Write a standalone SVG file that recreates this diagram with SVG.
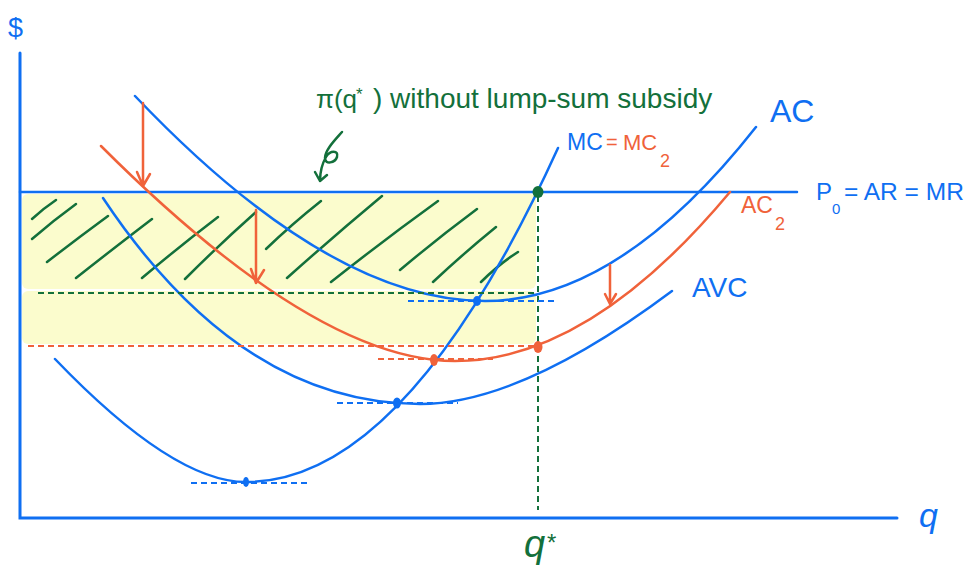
<svg xmlns="http://www.w3.org/2000/svg" width="968" height="569" viewBox="0 0 968 569">
<style>
.b{stroke:#0f6ff2;fill:none;stroke-width:2.5;stroke-linecap:round}
.o{stroke:#f0623a;fill:none;stroke-width:2.5;stroke-linecap:round;stroke-linejoin:round}
.g{stroke:#13703b;fill:none;stroke-width:2.5;stroke-linecap:round;stroke-linejoin:round}
.db{stroke:#0f6ff2;stroke-width:2;stroke-dasharray:6 4;fill:none}
.do{stroke:#f0623a;stroke-width:2;stroke-dasharray:6 4;fill:none}
.dg{stroke:#13703b;stroke-width:2;stroke-dasharray:6 4;fill:none}
text{font-family:"Liberation Sans",Arial,sans-serif}
.tb{fill:#0f6ff2}.to{fill:#f0623a}.tg{fill:#13703b}
</style>
<rect width="968" height="569" fill="#ffffff"/>
<g id="band">
<rect x="22" y="194" width="514" height="95" rx="6" fill="#fbfccd"/>
<rect x="22" y="291" width="514" height="53" rx="6" fill="#fbfccd"/>
</g>
<g id="hatch" class="g">
<path d="M32,219 Q44,208 56,200"/>
<path d="M32,239 Q54,220 76,204"/>
<path d="M47,262 Q78,238 108,216"/>
<path d="M76,278 Q114,248 152,219"/>
<path d="M142,278 Q180,246 218,217"/>
<path d="M185,279 Q220,244 256,212"/>
<path d="M266,249 Q292,224 321,201"/>
<path d="M287,278 Q334,236 382,196"/>
<path d="M331,282 Q384,240 438,201"/>
<path d="M400,270 Q438,238 477,209"/>
<path d="M433,282 Q464,253 496,227"/>
<path d="M481,282 Q499,264 518,252"/>
</g>
<g id="axes" class="b">
<path d="M20,53 L20,518 L897,518" style="stroke-width:3"/>
<path d="M20,192 L797,192"/>
</g>
<g id="curves">
<path id="MC" class="b" d="M55,359 Q173,482 246,482 Q406,482 558,148"/>
<path id="AVC" class="b" d="M103,198 Q240,404 420,404 Q521,404 672,291"/>
<path id="AC" class="b" d="M135,96 Q330,301 485,301 Q619,301 756,127"/>
<path id="AC2" class="o" d="M101,146 Q316,361 455,361 Q589,361 730,192"/>
</g>
<g id="connectors">
<path class="dg" d="M38,293 L537,293"/>
<path class="dg" d="M538,196 L538,510"/>
<path class="do" d="M28,346 L537,346"/>
<path class="do" d="M378,359 L493,359"/>
<path class="db" d="M408,301 L555,301"/>
<path class="db" d="M337,403 L458,403"/>
<path class="db" d="M191,483 L309,483"/>
<path class="o" d="M143,103 L143,186 M137,172 L143,186 L150,174"/>
<path class="o" d="M256,210 L256,283 M251,269 L256,283 L264,270"/>
<path class="o" d="M610,265 L610,304 M605,294 L610,304 L616,294"/>
<path class="g" d="M342,132 C335,140 325,150 325,158 C325,165 335,163 337,157 C339,150 330,150 326,157 C322,164 320,172 320,181 M315,172 L320,181 L327,175"/>
</g>
<g id="dots">
<ellipse cx="538" cy="192" rx="5.5" ry="6" fill="#13703b"/>
<ellipse cx="477" cy="301" rx="4" ry="5" fill="#0f6ff2"/>
<ellipse cx="397" cy="403" rx="4" ry="5.5" fill="#0f6ff2"/>
<ellipse cx="246" cy="482" rx="3" ry="5" fill="#0f6ff2"/>
<ellipse cx="434" cy="360" rx="4" ry="6" fill="#f0623a"/>
<ellipse cx="538" cy="347" rx="4.5" ry="6" fill="#f0623a"/>
</g>
<g id="labels">
<text x="8" y="37" font-size="27" class="tb">$</text>
<text x="316" y="108" font-size="26" class="tg">π(q</text>
<text x="356" y="100" font-size="17" class="tg">*</text>
<text x="373" y="108" font-size="28" class="tg">) without lump-sum subsidy</text>
<text x="567" y="150" font-size="23" class="tb">MC</text>
<text x="606" y="149" font-size="20" class="to">=</text>
<text x="623" y="150" font-size="22" class="to">MC</text>
<text x="660" y="167" font-size="18" class="to">2</text>
<text x="770" y="122" font-size="32" class="tb">AC</text>
<text x="816" y="200" font-size="24" class="tb">P</text>
<text x="832" y="214" font-size="15" class="tb">0</text>
<text x="844" y="200" font-size="24.5" class="tb">= AR = MR</text>
<text x="741" y="213" font-size="23" class="to">AC</text>
<text x="775" y="230" font-size="18" class="to">2</text>
<text x="692" y="297" font-size="28" class="tb">AVC</text>
<text x="524" y="557" font-size="38" class="tg" font-style="italic">q</text>
<text x="547" y="551" font-size="24" class="tg">*</text>
<text x="919" y="527" font-size="34" class="tb" font-style="italic">q</text>
</g>
</svg>
